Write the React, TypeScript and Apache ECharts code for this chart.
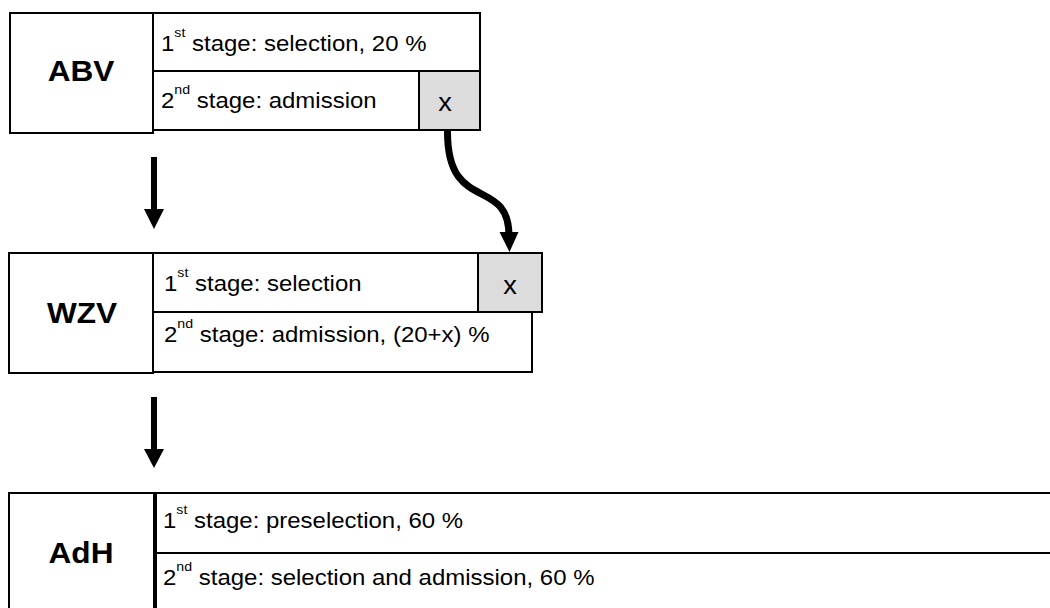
import React, { useEffect, useRef } from "react";
import * as echarts from "echarts";

// ---- data (texts of the diagram) ----
const blocks = ["ABV", "WZV", "AdH"];
const ordinals = [
  ["1", "st"],
  ["2", "nd"],
];
const firstStage = ["selection, 20 %", "selection", "preselection, 60 %"];
const secondStage = ["admission", "admission, (20+x) %", "selection and admission, 60 %"];
const transferLabel = "x";

const FONT = "'Liberation Sans', Arial, Helvetica, sans-serif";
const SX = 1.09;
const GRAY = "#dcdcdc";

// layout (pixel geometry of the boxes)
const layout = [
  {
    label: [10, 13, 143, 120],
    labelC: [81, 71],
    row1: [153, 13, 327, 58],
    row2: [153, 71, 266, 59],
    xbox: [419, 71, 61, 59],
    xText: [445, 102],
    textX: 161,
    t1y: 43,
    t2y: 100,
  },
  {
    label: [9, 253, 144, 120],
    labelC: [82, 313],
    row1: [153, 253, 325, 59],
    row2: [153, 312, 379, 60],
    xbox: [478, 253, 64, 59],
    xText: [510, 285],
    textX: 164,
    t1y: 283,
    t2y: 334,
  },
  {
    label: [9, 493, 145, 140],
    labelC: [81, 553],
    row1: [156, 493, 920, 60],
    row2: [156, 553, 920, 80],
    xbox: null,
    xText: null,
    textX: 163,
    t1y: 520,
    t2y: 577,
  },
];

function rect(r: number[], fill = "#fff") {
  return {
    type: "rect",
    shape: { x: r[0], y: r[1], width: r[2], height: r[3] },
    style: { fill, stroke: "#000", lineWidth: 2 },
  };
}

const rich = {
  n: { fontSize: 22, fontFamily: FONT, fill: "#000", lineHeight: 34 },
  s: { fontSize: 13, fontFamily: FONT, fill: "#000", lineHeight: 14, verticalAlign: "top" },
};

function stageText(idx: number, rest: string, x: number, y: number) {
  const [num, sup] = ordinals[idx];
  return {
    type: "text",
    x,
    y,
    scaleX: SX,
    style: {
      text: `{n|${num}}{s|${sup}}{n| stage: ${rest}}`,
      rich,
      fontSize: 22,
      fontFamily: FONT,
      fill: "#000",
      align: "left",
      verticalAlign: "middle",
    },
  };
}

function buildGraphics() {
  const els: any[] = [];
  layout.forEach((L, i) => {
    els.push(rect(L.row1));
    els.push(rect(L.row2));
    if (L.xbox) els.push(rect(L.xbox, GRAY));
    els.push(rect(L.label));
    els.push({
      type: "text",
      x: L.labelC[0],
      y: L.labelC[1],
      scaleX: SX,
      style: {
        text: blocks[i],
        fontSize: 29,
        fontWeight: "bold",
        fontFamily: FONT,
        fill: "#000",
        align: "center",
        verticalAlign: "middle",
      },
    });
    els.push(stageText(0, firstStage[i], L.textX, L.t1y));
    els.push(stageText(1, secondStage[i], L.textX, L.t2y));
    if (L.xText) {
      els.push({
        type: "text",
        x: L.xText[0],
        y: L.xText[1],
        scaleX: SX,
        style: {
          text: transferLabel,
          fontSize: 25,
          fontFamily: FONT,
          fill: "#000",
          align: "center",
          verticalAlign: "middle",
        },
      });
    }
  });

  // straight down arrows
  const downArrows = [
    { x: 154, y1: 157, y2: 211, head: 209, tip: 229 },
    { x: 154, y1: 397, y2: 451, head: 449, tip: 468 },
  ];
  downArrows.forEach((a) => {
    els.push({
      type: "line",
      shape: { x1: a.x, y1: a.y1, x2: a.x, y2: a.y2 },
      style: { stroke: "#000", lineWidth: 6 },
    });
    els.push({
      type: "polygon",
      shape: { points: [[a.x - 10, a.head], [a.x + 10, a.head], [a.x, a.tip]] },
      style: { fill: "#000" },
    });
  });

  // curved arrow (transfer of x)
  els.push({
    type: "bezierCurve",
    shape: { x1: 447.5, y1: 131, cpx1: 447, cpy1: 215, cpx2: 509, cpy2: 175, x2: 509, y2: 236 },
    style: { stroke: "#000", lineWidth: 7, fill: null },
  });
  els.push({
    type: "polygon",
    shape: { points: [[499.5, 232], [518.5, 232], [509.5, 252]] },
    style: { fill: "#000" },
  });
  return els;
}

export default function App() {
  const ref = useRef<HTMLDivElement>(null);
  useEffect(() => {
    if (!ref.current) return;
    const chart = echarts.init(ref.current, null, { renderer: "svg" });
    chart.setOption({
      animation: false,
      backgroundColor: "#ffffff",
      graphic: { elements: buildGraphics() },
    });
    return () => chart.dispose();
  }, []);
  return (
    <div
      ref={ref}
      style={{ position: "fixed", left: 0, top: 0, width: 1050, height: 608, background: "#fff" }}
    />
  );
}
